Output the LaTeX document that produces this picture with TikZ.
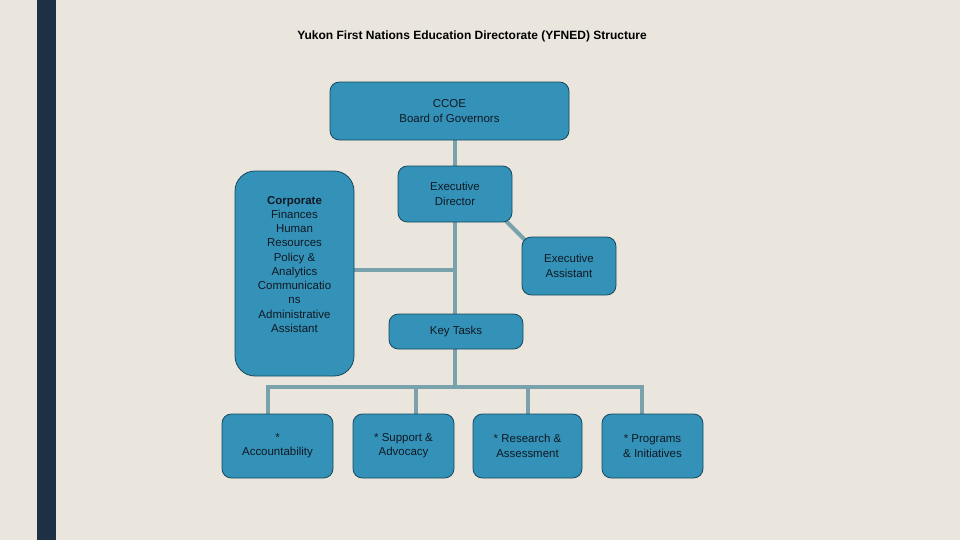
\documentclass[tikz,border=0pt]{standalone}
\usepackage{fontspec}
\setmainfont{Liberation Sans}
\usetikzlibrary{positioning, backgrounds}
\definecolor{slidebg}{RGB}{234,230,221}
\definecolor{sidebar}{RGB}{30,48,68}
\definecolor{boxfill}{RGB}{52,145,184}
\definecolor{boxline}{RGB}{22,72,92}
\definecolor{linkline}{RGB}{121,162,172}
\definecolor{boxtext}{RGB}{15,25,35}
\tikzset{
  % Plain org box
  orgbox/.style={
    rectangle, rounded corners=7pt,
    fill=boxfill, draw=boxline, line width=0.6pt,
    text=boxtext, font=\fontsize{8.6}{10.7}\selectfont, align=center,
    inner sep=2pt
  },
  % Tall corporate box
  corpbox/.style={
    orgbox, rounded corners=15pt
  },
  % Connector line
  link/.style={
    color=linkline, line width=3pt
  },
  % Slide title
  titletext/.style={
    font=\bfseries\fontsize{9}{11}\selectfont, text=black
  },
}
\begin{document}
\begin{tikzpicture}[x=0.75pt, y=-0.75pt]

\useasboundingbox (0,0) rectangle (960,540);

%% ── BACKGROUND ───────────────────────────────────────────────────────────

\begin{scope}[on background layer]
\fill[slidebg] (0,0) rectangle (960,540);
\fill[sidebar] (37,0) rectangle (56,540);
\end{scope}

\node[titletext] (title) at (472,36.5)
  {Yukon First Nations Education Directorate (YFNED) Structure};

%% ── TOP LEVEL ────────────────────────────────────────────────────────────

\node[orgbox, minimum width=179.25pt, minimum height=43.5pt] (ccoe) at (449.5,111)
  {CCOE\\Board of Governors};

\node[orgbox, minimum width=85.5pt, minimum height=42pt] (exec) at (455,194)
  {Executive\\Director};

\node[orgbox, minimum width=70.5pt, minimum height=43.5pt] (assist) at (569,266)
  {Executive\\Assistant};

\node[corpbox, minimum width=89.25pt, minimum height=153.75pt] (corp) at (294.5,273.5)
  {\textbf{Corporate}\\Finances\\Human\\Resources\\Policy \&\\Analytics\\Communicatio\\ns\\Administrative\\Assistant\\\strut};

\node[orgbox, minimum width=100.5pt, minimum height=26.25pt] (keytasks) at (456,331.5)
  {Key Tasks};

%% ── KEY TASKS ROW ────────────────────────────────────────────────────────

\node[orgbox, minimum width=83.25pt, minimum height=48pt] (account) at (277.5,446)
  {*\\Accountability};

\node[orgbox, minimum width=75.75pt, minimum height=48pt] (support) at (403.5,446)
  {* Support \&\\Advocacy};

\node[orgbox, minimum width=81.75pt, minimum height=48pt] (research) at (527.5,446)
  {* Research \&\\Assessment};

\node[orgbox, minimum width=75.75pt, minimum height=48pt] (programs) at (652.5,446)
  {* Programs\\\& Initiatives};

\coordinate (busL) at (268,387);
\coordinate (busR) at (642,387);

%% ── CONNECTORS ───────────────────────────────────────────────────────────

\begin{scope}[on background layer]
\draw[link] (exec.north |- ccoe.south) -- (exec.north);
\draw[link] (exec.south) -- (exec.south |- keytasks.north);
\draw[link] ([yshift=2.6pt]corp.east) -- ([yshift=2.6pt]corp.east -| exec.south);
\draw[link] ([shift={(-6.75pt,3pt)}]exec.south east) -- ([shift={(6pt,-6pt)}]assist.north west);
\draw[link] (keytasks.south -| exec.south) -- (exec.south |- busL);
\draw[link] (account.north -| busL) -- (busL) -- (busR) -- (programs.north -| busR);
\draw[link] ([xshift=9pt]support.north) -- ([xshift=9pt]support.north |- busL);
\draw[link] (research.north) -- (research.north |- busL);
\end{scope}

\end{tikzpicture}
\end{document}
